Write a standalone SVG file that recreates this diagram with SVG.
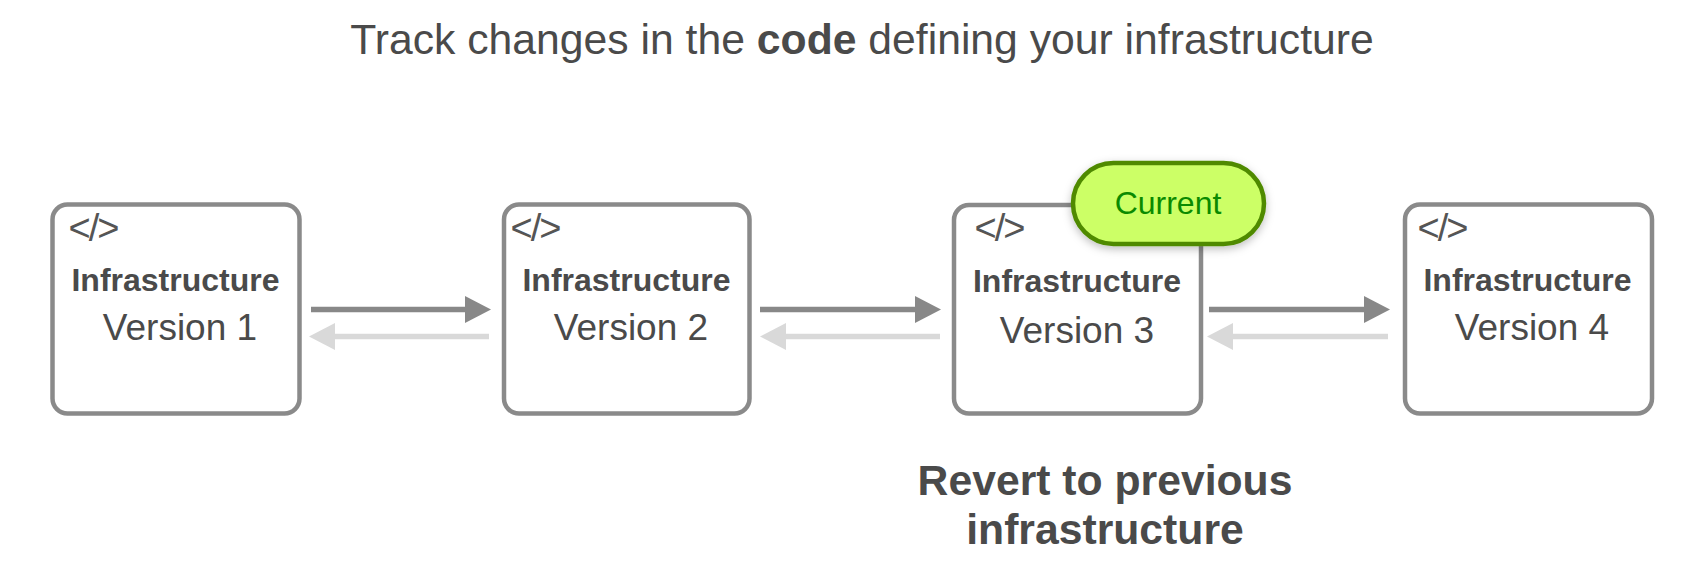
<svg xmlns="http://www.w3.org/2000/svg" width="1696" height="569" viewBox="0 0 1696 569">
<style>
text{font-family:"Liberation Sans",Arial,sans-serif;fill:#4a4a4a;text-anchor:middle}
.box{fill:#fff;stroke:#8a8a8a;stroke-width:4.500}
.icon{font-size:38px;fill:#555;letter-spacing:-2px}
.inf{font-size:32px;font-weight:700}
.ver{font-size:37px}
.fwd{stroke:#888;stroke-width:5.500;fill:none;marker-end:url(#af)}
.bck{stroke:#d9d9d9;stroke-width:5.500;fill:none;marker-end:url(#ab)}
</style>
<defs>
<marker id="af" markerUnits="userSpaceOnUse" markerWidth="26" markerHeight="28" refX="16" refY="14" orient="auto"><path d="M0 0.500L26 14L0 27.500Z" fill="#888"/></marker>
<marker id="ab" markerUnits="userSpaceOnUse" markerWidth="26" markerHeight="28" refX="16" refY="14" orient="auto"><path d="M0 0.500L26 14L0 27.500Z" fill="#d9d9d9"/></marker>
<filter id="sh" x="-20%" y="-30%" width="140%" height="170%"><feDropShadow dx="0" dy="3" stdDeviation="4" flood-color="#000" flood-opacity=".25"/></filter>
</defs>
<text x="862" y="54" font-size="42.700">Track changes in the <tspan font-weight="700">code</tspan> defining your infrastructure</text>
<g id="connectors">
<path class="fwd" d="M311 309.500H481"/><path class="bck" d="M489 336.500H319"/>
<path class="fwd" d="M760 309.500H931"/><path class="bck" d="M940 336.500H770"/>
<path class="fwd" d="M1209 309.500H1380"/><path class="bck" d="M1388 336.500H1217"/>
</g>
<g id="v1"><rect class="box" x="52.500" y="204.500" width="247" height="209" rx="15"/><text class="icon" x="93" y="241">&lt;/&gt;</text><text class="inf" x="175.500" y="291">Infrastructure</text><text class="ver" x="180" y="340">Version 1</text></g>
<g id="v2"><rect class="box" x="504" y="204.500" width="245.500" height="209" rx="15"/><text class="icon" x="535" y="241">&lt;/&gt;</text><text class="inf" x="626.500" y="291">Infrastructure</text><text class="ver" x="631" y="340">Version 2</text></g>
<g id="v3"><rect class="box" x="954" y="205" width="247" height="208.500" rx="15"/><text class="icon" x="999" y="241">&lt;/&gt;</text><text class="inf" x="1077" y="292">Infrastructure</text><text class="ver" x="1077" y="343">Version 3</text></g>
<g id="v4"><rect class="box" x="1405" y="204.500" width="247" height="209" rx="15"/><text class="icon" x="1442" y="241">&lt;/&gt;</text><text class="inf" x="1527.500" y="291">Infrastructure</text><text class="ver" x="1532" y="340">Version 4</text></g>
<g id="current"><rect x="1073" y="163" width="191" height="81" rx="40.500" fill="#ccff66" stroke="#4f8a00" stroke-width="4.500" filter="url(#sh)"/><text x="1168" y="214" font-size="32" style="fill:#0a8a00">Current</text></g>
<g id="revert"><text x="1105" y="495" font-size="42.700" font-weight="700">Revert to previous</text><text x="1105" y="543.500" font-size="42.700" font-weight="700">infrastructure</text></g>
</svg>
